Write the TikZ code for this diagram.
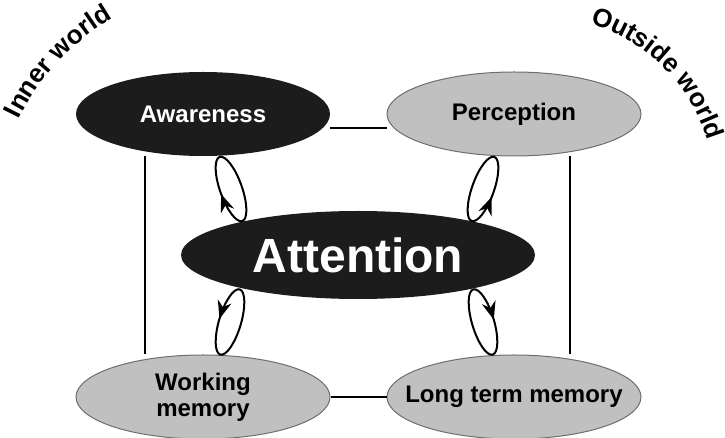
\documentclass[tikz,border=0pt]{standalone}
\usepackage{fontspec}
\setmainfont{Liberation Sans}
\usetikzlibrary{shapes, arrows.meta, positioning, calc, decorations.markings, decorations.text}
\definecolor{ovalblack}{RGB}{28, 28, 28}
\definecolor{ovalgray}{RGB}{192, 192, 192}
\definecolor{ovalrim}{RGB}{110, 110, 110}

\tikzset{
  darkoval/.style={ellipse, fill=ovalblack, minimum width=127pt, minimum height=42pt, inner sep=0pt},
  greyoval/.style={ellipse, draw=ovalrim, line width=0.5pt, fill=ovalgray, minimum width=127pt, minimum height=42pt, inner sep=0pt},
  ovaltext/.style={font=\bfseries\fontsize{12}{13}\selectfont, align=center},
  link/.style={line width=1pt},
  turnfwd/.style={line width=1pt, postaction={decorate, decoration={markings, mark=at position #1 with {\arrow{Stealth[length=9pt, width=7pt]}}}}},
  turnback/.style={line width=1pt, postaction={decorate, decoration={markings, mark=at position #1 with {\arrowreversed{Stealth[length=9pt, width=7pt]}}}}},
  arctext/.style={decorate, decoration={text along path, text align=center, text={|\bfseries\fontsize{13}{15}\selectfont|#1}}}
}

\begin{document}
\begin{tikzpicture}[x=0.5pt, y=0.5pt]
  \useasboundingbox (0,0) rectangle (725,-438);

  % the four outer ovals and the central one
  \node[darkoval, label={[ovaltext, white]center:Awareness}] (aware) at (203,-114) {};
  \node[greyoval, label={[ovaltext]center:Perception}] (percep) at (514,-114) {};
  \node[greyoval, label={[ovaltext]center:Working\\memory}] (wm) at (203,-397) {};
  \node[greyoval, label={[ovaltext]center:Long term memory}] (ltm) at (514,-397) {};
  \node[darkoval, minimum width=177pt, minimum height=44pt, text=white, font=\bfseries\fontsize{24}{26}\selectfont] (attn) at (358,-255) {Attention};

  % plain links round the frame
  \draw[link] ([yshift=-7pt]aware.east) -- ([yshift=-7pt]percep.west);
  \draw[link] (wm.east) -- (ltm.west);
  \draw[link] ([xshift=-29pt]aware.south) -- ([xshift=-29pt]wm.north);
  \draw[link] ([xshift=28pt]percep.south) -- ([xshift=28pt]ltm.north);

  % small cycles between attention and the outer ovals
  \coordinate (cycA) at (231,-189);
  \coordinate (cycB) at (483,-189);
  \coordinate (cycC) at (230,-322);
  \coordinate (cycD) at (483,-322);
  \draw[turnback=0.51, shift={(cycA)}, rotate=19.5] (0,0) ellipse [x radius=5.5pt, y radius=17pt];
  \draw[turnfwd=0.97, shift={(cycB)}, rotate=-19.5] (0,0) ellipse [x radius=5.5pt, y radius=17pt];
  \draw[turnfwd=0.5, shift={(cycC)}, rotate=-16.6] (0,0) ellipse [x radius=5.5pt, y radius=17pt];
  \draw[turnback=0.995, shift={(cycD)}, rotate=16.6] (0,0) ellipse [x radius=5.5pt, y radius=17pt];

  % curved captions
  \coordinate (innerC) at (228,-220);
  \coordinate (outerC) at (540,-191);
  \path[arctext=Inner world] ([shift={(165:116pt)}]innerC) arc[start angle=165, end angle=109, radius=116pt];
  \path[arctext=Outside world] ([shift={(80:87.5pt)}]outerC) arc[start angle=80, end angle=10, radius=87.5pt];
\end{tikzpicture}
\end{document}
